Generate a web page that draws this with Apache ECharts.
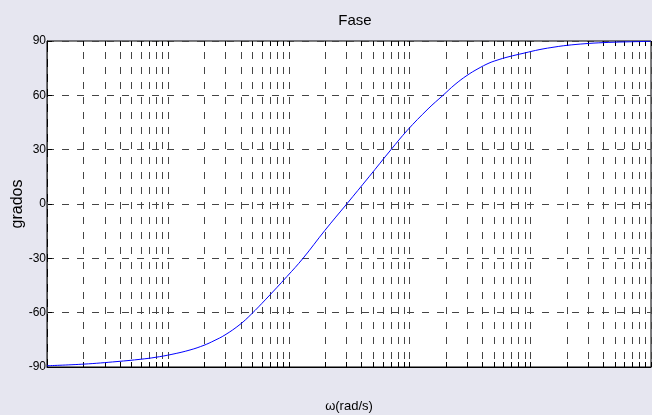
<!DOCTYPE html>
<html>
<head>
<meta charset="utf-8">
<script src="https://cdn.jsdelivr.net/npm/echarts@6/dist/echarts.min.js"></script>
<style>
  html, body { margin: 0; padding: 0; background: #E6E6F0; }
  #chart { width: 652px; height: 415px; }
</style>
</head>
<body>
<div id="chart"></div>
<script>
// ---- data ----
const omega    = [0.01, 0.02024, 0.03798, 0.05999, 0.07834, 0.1083, 0.1527, 0.1994, 0.2413, 0.2976, 0.3961, 0.4884, 0.65, 0.9701, 1.316, 2.001, 3.027, 4.63, 7.042, 9.552, 14.26, 18.97, 23.85, 29.99, 36.98, 45.6, 53.12, 65.5, 88.87, 120.5, 160.4, 201.7, 284.1, 400.6, 609.3, 1000];
const phaseDeg = [-89.3, -88.4, -87.0, -85.7, -84.7, -83.0, -80.6, -78.0, -75.5, -72.3, -66.5, -61.0, -52.5, -40.0, -30.0, -14.5, 0, 15.0, 30.0, 40.5, 52.5, 60.0, 66.0, 71.0, 74.7, 77.8, 79.4, 81.2, 83.3, 85.3, 86.7, 87.6, 88.5, 89.1, 89.5, 89.8];
const yTicks   = [-90, -60, -30, 0, 30, 60, 90];
const xDecades = [0.01, 0.1, 1, 10, 100, 1000];
const titleText = 'Fase';
const xLabel = 'ω(rad/s)';
const yLabel = 'grados';

// grid positions at 1..9 x each decade
const xGridVals = [];
for (let d = 0; d < xDecades.length - 1; d++) {
  for (let m = 1; m <= 9; m++) xGridVals.push(xDecades[d] * m);
}
xGridVals.push(xDecades[xDecades.length - 1]);

const narrow = '"Liberation Sans Narrow", "Liberation Sans", Arial, sans-serif';
const chart = echarts.init(document.getElementById('chart'));
chart.setOption({
  backgroundColor: '#E6E6F0',
  animation: false,
  title: {
    text: titleText, left: 350, top: 8, textAlign: 'center',
    textStyle: { fontFamily: narrow, fontSize: 15, fontWeight: 'normal', color: '#000' }
  },
  grid: {
    left: 47, right: 1, top: 41, bottom: 48,
    outerBoundsMode: 'none', containLabel: false,
    show: true, backgroundColor: '#fff', borderColor: '#000', borderWidth: 1
  },
  xAxis: {
    type: 'log', min: xDecades[0], max: xDecades[xDecades.length - 1], logBase: 10,
    name: xLabel, nameLocation: 'middle', nameGap: 33, nameMoveOverlap: false,
    nameTextStyle: { fontFamily: narrow, fontSize: 13, color: '#000' },
    axisLine: { show: true, onZero: false, lineStyle: { color: '#000' } },
    axisTick: { show: false }, axisLabel: { show: false },
    splitLine: { show: false }, minorTick: { show: false }, minorSplitLine: { show: false }
  },
  yAxis: {
    type: 'value', min: yTicks[0], max: yTicks[yTicks.length - 1], interval: 30,
    name: yLabel, nameLocation: 'middle', nameGap: 21, nameRotate: 90, nameMoveOverlap: false,
    nameTextStyle: { fontFamily: '"Liberation Sans", Arial, sans-serif', fontSize: 16, color: '#000' },
    axisLine: { show: true, onZero: false, lineStyle: { color: '#000' } },
    axisTick: { show: true, inside: true, length: 5, lineStyle: { color: '#000' } },
    axisLabel: { fontFamily: narrow, fontSize: 12, color: '#000', margin: 1 },
    splitLine: { show: true, lineStyle: { color: '#444', type: [7, 8], width: 1 } }
  },
  series: [
    {
      type: 'custom', silent: true, z: 1,
      data: xGridVals.map(v => [v]),
      renderItem: function (params, api) {
        const v = api.value(0);
        const top = api.coord([v, 90]);
        const bot = api.coord([v, -90]);
        const x = Math.round(top[0]) + 0.5;
        return {
          type: 'group',
          children: [
            { type: 'line', shape: { x1: x, y1: top[1], x2: x, y2: bot[1] },
              style: { stroke: '#444', lineWidth: 1, lineDash: [7, 8], lineDashOffset: 4 } },
            { type: 'line', shape: { x1: x, y1: top[1], x2: x, y2: top[1] + 5 },
              style: { stroke: '#000', lineWidth: 1 } },
            { type: 'line', shape: { x1: x, y1: bot[1], x2: x, y2: bot[1] - 5 },
              style: { stroke: '#000', lineWidth: 1 } }
          ]
        };
      }
    },
    {
      type: 'line', z: 3,
      data: omega.map((w, i) => [w, phaseDeg[i]]),
      showSymbol: false, smooth: 0.4,
      lineStyle: { color: '#0000FF', width: 1 }
    }
  ]
});
</script>
</body>
</html>
